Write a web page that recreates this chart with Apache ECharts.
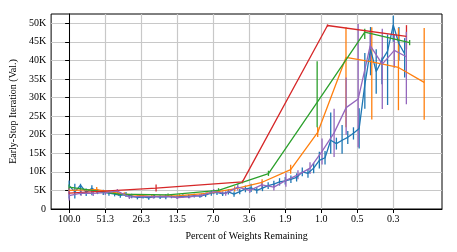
<!DOCTYPE html>
<html><head><meta charset="utf-8">
<script src="https://cdn.jsdelivr.net/npm/echarts@6/dist/echarts.min.js"></script>
<style>html,body{margin:0;padding:0;background:#fff}#c{width:457px;height:252px}</style>
</head><body><div id="c"></div>
<script>
// ---- axis ticks ----
const tickLabels = ['100.0','51.3','26.3','13.5','7.0','3.6','1.9','1.0','0.5','0.3'];
const tickRatio = 0.513;            // percent factor between consecutive labelled ticks
const yTickValues = [0,5000,10000,15000,20000,25000,30000,35000,40000,45000,50000];

// ---- blue: 10% pruned per round ----
const blueKeep = 0.9;
const blueMean = [6.3,4.6,6.4,4.5,5.6,4.7,4.5,4.3,4.0,3.7,3.9,3.5,3.1,3.3,3.0,3.4,3.2,3.3,3.4,3.2,
  3.5,3.4,3.6,3.5,3.8,4.3,4.5,4.1,4.6,4.0,4.7,5.4,5.7,5.0,5.6,6.3,6.7,7.3,7.6,8.0,
  8.5,10.0,9.6,11.0,13.1,13.8,18.5,17.6,18.5,19.3,20.4,21.7,33.5,43.0,37.0,40.0,42.5,49.5,44.5,41.8];
const blueLow  = [2.8,2.8,3.7,3.5,3.7,4.0,3.8,3.6,3.4,3.0,3.2,2.9,2.6,2.8,2.5,2.9,2.7,2.6,2.9,2.7,
  3.0,2.9,3.1,3.0,3.2,3.6,3.8,3.5,3.9,3.3,4.0,4.5,4.6,4.2,4.8,5.4,5.8,6.3,6.6,7.0,
  7.4,8.8,8.4,9.6,10.9,12.0,14.9,16.0,14.9,17.5,18.7,16.3,27.0,36.0,31.0,33.6,28.0,45.0,40.0,35.4];
const blueHigh = [7.7,6.8,6.8,5.5,6.4,5.4,5.2,5.0,4.6,4.4,4.6,4.1,3.6,3.8,3.5,3.9,3.7,4.0,3.9,3.7,
  4.0,3.9,4.1,4.0,4.4,5.0,5.2,4.7,5.3,4.7,5.4,6.3,6.8,5.8,6.4,7.2,7.6,8.3,8.6,9.0,
  9.6,11.2,10.8,12.4,15.4,15.6,26.0,19.2,22.6,21.0,22.0,27.1,42.0,49.0,43.0,40.8,47.0,52.0,49.0,46.0];

// ---- orange: 40% pruned per round ----
const orangePct  = [100,60.0,36.0,21.6,12.96,7.78,4.66,2.80,1.65,1.00,0.592,0.367,0.224,0.139];
const orangeMean = [5.0,5.2,4.0,3.4,3.6,4.2,5.4,7.2,10.6,20.6,40.8,39.6,38.1,34.1];
const orangeLow  = [4.3,4.3,3.5,3.0,3.2,3.7,4.7,6.4,9.5,19.4,22.0,24.1,26.6,24.0];
const orangeHigh = [5.7,5.9,4.5,3.8,4.0,4.7,6.1,8.0,11.9,22.1,48.9,48.9,48.7,48.7];

// ---- green: 60% pruned per round ----
const greenPct  = [100,40.0,16.0,6.28,2.49,1.01,0.418,0.182];
const greenMean = [5.9,4.0,3.8,5.0,9.5,28.7,47.6,44.8];
const greenLow  = [5.2,3.6,3.4,4.4,8.9,22.0,45.8,44.1];
const greenHigh = [6.6,4.4,4.2,5.6,10.3,39.8,48.5,45.5];

// ---- red: 80% pruned per round ----
const redPct  = [100,19.97,4.03,0.834,0.193];
const redMean = [4.3,5.6,7.3,49.4,46.5];
const redLow  = [3.9,4.7,6.9,49.1,43.0];
const redHigh = [4.7,6.6,7.7,49.7,49.5];

// ---- purple: 20% pruned per round ----
const purpleKeep = 0.8;
const purpleMean = [3.6,4.3,4.2,4.4,4.8,3.2,3.4,3.3,3.4,3.1,3.3,3.7,4.7,4.2,5.9,5.0,6.5,5.9,7.7,9.2,
  11.0,15.5,20.5,27.3,29.6,44.0,39.0,42.7,41.0];
const purpleLow  = [2.3,3.6,3.5,3.8,4.2,2.7,2.9,2.8,2.9,2.7,2.9,3.2,4.0,3.6,5.0,4.3,5.6,5.0,6.0,8.0,
  9.4,12.0,14.0,20.0,16.6,40.1,26.9,38.0,28.2];
const purpleHigh = [5.6,5.0,4.9,5.0,5.4,3.7,3.9,3.8,3.9,3.5,3.7,4.2,5.4,4.8,6.8,5.7,7.4,6.8,9.6,10.4,
  12.6,19.0,27.0,35.4,49.8,47.7,48.5,47.0,47.7];

// ---- build ----
const pos = p => Math.log(100 / p) / Math.log(1 / tickRatio) ; // in tick units
function pts(pcts, mean, low, high) {
  return pcts.map((p, i) => ({x: pos(p), m: mean[i] * 1000, l: low[i] * 1000, h: high[i] * 1000}));
}
const geo = (keep, n) => Array.from({length: n}, (_, k) => 100 * Math.pow(keep, k));

const groups = [
  {name: 'blue',   color: '#1f77b4', d: pts(geo(blueKeep, blueMean.length), blueMean, blueLow, blueHigh)},
  {name: 'orange', color: '#ff7f0e', d: pts(orangePct, orangeMean, orangeLow, orangeHigh)},
  {name: 'green',  color: '#2ca02c', d: pts(greenPct, greenMean, greenLow, greenHigh)},
  {name: 'red',    color: '#d62728', d: pts(redPct, redMean, redLow, redHigh)},
  {name: 'purple', color: '#9467bd', d: pts(geo(purpleKeep, purpleMean.length), purpleMean, purpleLow, purpleHigh)}
];

const series = [];
groups.forEach(g => {
  series.push({
    type: 'custom', name: g.name + '-err', silent: true,
    data: g.d.map(o => [o.x, o.l, o.h]),
    encode: {x: 0, y: [1, 2]},
    renderItem: (params, api) => {
      const a = api.coord([api.value(0), api.value(1)]);
      const b = api.coord([api.value(0), api.value(2)]);
      return {type: 'line', shape: {x1: a[0], y1: a[1], x2: b[0], y2: b[1]},
              style: {stroke: g.color, lineWidth: 1.3}};
    }
  });
  series.push({
    type: 'line', name: g.name, showSymbol: false, silent: true,
    data: g.d.map(o => [o.x, o.m]),
    lineStyle: {color: g.color, width: 1.3}
  });
});

const font = 'Liberation Serif';
const chart = echarts.init(document.getElementById('c'), null, {renderer: 'canvas'});
chart.setOption({
  animation: false,
  backgroundColor: '#fff',
  grid: {left: 51, right: 15, top: 14, bottom: 43, show: true, borderColor: '#000', borderWidth: 1, backgroundColor: 'transparent'},
  xAxis: {
    type: 'value', min: -0.5, max: 10.35,
    name: 'Percent of Weights Remaining', nameLocation: 'middle', nameGap: 22,
    nameTextStyle: {fontFamily: font, fontSize: 10, color: '#000'},
    axisLine: {show: true, lineStyle: {color: '#000', width: 1}},
    axisTick: {show: true, length: 4, lineStyle: {color: '#000'}, customValues: tickLabels.map((_, i) => i)},
    axisLabel: {fontFamily: font, fontSize: 10, color: '#000', margin: 5,
      customValues: tickLabels.map((_, i) => i),
      formatter: v => tickLabels[Math.round(v)]},
    splitLine: {show: true, lineStyle: {color: '#c8c8c8', width: 1.2}}
  },
  yAxis: {
    type: 'value', min: 0, max: 52500,
    name: 'Early-Stop Iteration (Val.)', nameLocation: 'middle', nameGap: 32,
    nameTextStyle: {fontFamily: font, fontSize: 10, color: '#000'},
    axisLine: {show: true, lineStyle: {color: '#000', width: 1}},
    axisTick: {show: true, length: 4, lineStyle: {color: '#000'}, customValues: yTickValues},
    axisLabel: {fontFamily: font, fontSize: 10, color: '#000', margin: 5,
      customValues: yTickValues,
      formatter: v => v === 0 ? '0' : (v / 1000) + 'K'},
    splitLine: {show: true, lineStyle: {color: '#c8c8c8', width: 1.2}}
  },
  series: series
});
</script></body></html>
